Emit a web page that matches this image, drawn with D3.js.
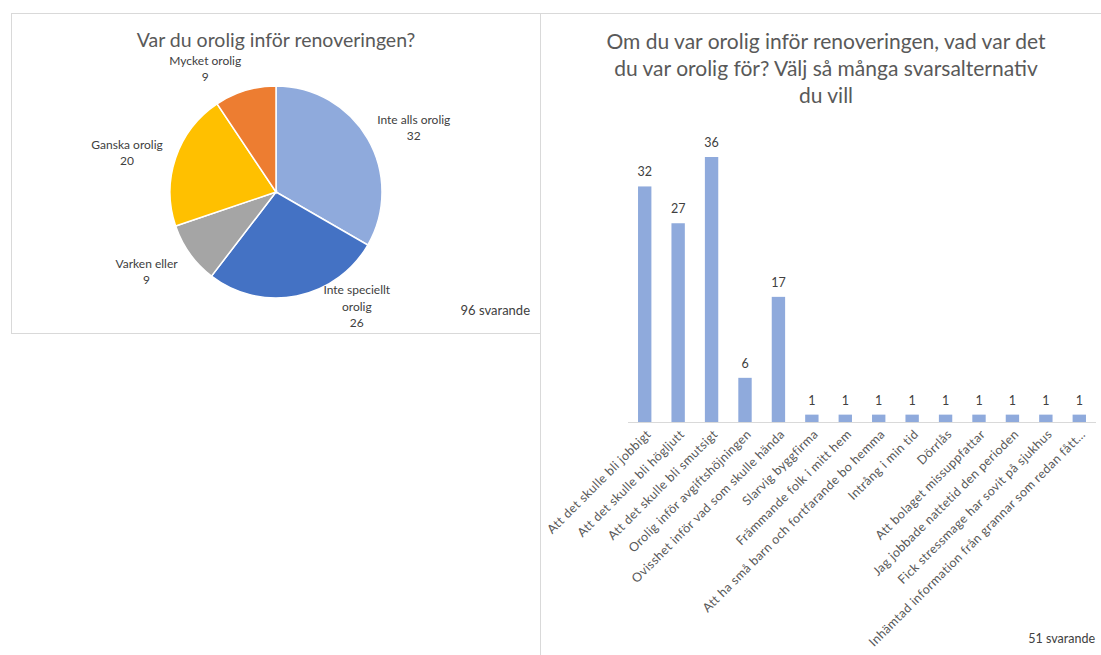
<!DOCTYPE html>
<html>
<head>
<meta charset="utf-8">
<script src="https://cdn.jsdelivr.net/npm/d3@7"></script>
<style>
  html, body { margin: 0; padding: 0; background: #fff; }
  svg { display: block; font-family: Lato, "Open Sans", sans-serif; }
</style>
</head>
<body>
<svg id="canvas" width="1101" height="655"></svg>
<script>
// ---------------------
// pie chart: worry level
// ---------------------
var pieTitle = 'Var du orolig inför renoveringen?';
var pieCategories = ['Inte alls orolig', 'Inte speciellt orolig', 'Varken eller', 'Ganska orolig', 'Mycket orolig'];
var pieValues = [32, 26, 9, 20, 9];
var pieColors = ['#8FAADC', '#4472C4', '#A5A5A5', '#FFC000', '#ED7D31'];
var pieNote = '96 svarande';

// ---------------------------
// bar chart: what people feared
// ---------------------------
var barTitleLines = [
  'Om du var orolig inför renoveringen, vad var det',
  'du var orolig för? Välj så många svarsalternativ',
  'du vill'
];
var barCategories = [
  'Att det skulle bli jobbigt',
  'Att det skulle bli högljutt',
  'Att det skulle bli smutsigt',
  'Orolig inför avgiftshöjningen',
  'Ovisshet inför vad som skulle hända',
  'Slarvig  byggfirma',
  'Främmande folk i mitt hem',
  'Att ha små barn och fortfarande bo hemma',
  'Intrång i min tid',
  'Dörrlås',
  'Att bolaget missuppfattar',
  'Jag jobbade nattetid den perioden',
  'Fick stressmage har sovit på sjukhus',
  'Inhämtad information från grannar som redan fått…'
];
var barValues = [32, 27, 36, 6, 17, 1, 1, 1, 1, 1, 1, 1, 1, 1];
var barNote = '51 svarande';

var svg = d3.select('#canvas');
var textColor = '#595959';
var labelColor = '#404040';

// panel frames
svg.append('rect')
  .attr('x', 11.5).attr('y', 13.5)
  .attr('width', 529).attr('height', 320)
  .attr('fill', 'none').attr('stroke', '#d9d9d9');
svg.append('rect')
  .attr('x', 540.5).attr('y', 13.5)
  .attr('width', 600).attr('height', 700)
  .attr('fill', 'none').attr('stroke', '#d9d9d9');

// -------
// the pie
// -------
var pieCenter = { x: 276, y: 192 };
var radius = 106;

var pieGroup = svg.append('g')
  .attr('transform', 'translate(' + pieCenter.x + ',' + pieCenter.y + ')');

var pie = d3.pie().sort(null).value(function (d) { return d; });
var arcs = pie(pieValues);
var arc = d3.arc().innerRadius(0).outerRadius(radius);

pieGroup.selectAll('path.slice')
  .data(arcs)
  .enter().append('path')
  .attr('class', 'slice')
  .attr('d', arc)
  .attr('fill', function (d, i) { return pieColors[i]; })
  .attr('stroke', '#fff')
  .attr('stroke-width', 1.5);

// best-fit style label placement (angle nudge in degrees, radius)
var labelNudge = [5, -24, 4, -4, -13];
var labelRadius = [152, 140, 152, 154, 142];

var pieLabel = pieGroup.selectAll('g.pie-label')
  .data(arcs)
  .enter().append('g')
  .attr('class', 'pie-label')
  .attr('transform', function (d, i) {
    var a = (d.startAngle + d.endAngle) / 2 + labelNudge[i] * Math.PI / 180;
    var r = labelRadius[i];
    return 'translate(' + (Math.sin(a) * r) + ',' + (-Math.cos(a) * r) + ')';
  });

pieLabel.each(function (d, i) {
  var name = pieCategories[i];
  var lines = [];
  if (name.length > 18) {
    var cut = name.lastIndexOf(' ');
    lines.push(name.slice(0, cut), name.slice(cut + 1));
  } else {
    lines.push(name);
  }
  lines.push(String(d.value));
  var lh = 16.5;
  var top = -(lines.length - 1) * lh / 2;
  var t = d3.select(this).append('text')
    .attr('text-anchor', 'middle')
    .attr('font-size', '12px')
    .attr('fill', labelColor);
  lines.forEach(function (l, k) {
    t.append('tspan').attr('x', 0).attr('y', top + k * lh).attr('dy', '0.35em').text(l);
  });
});

svg.append('text')
  .attr('x', pieCenter.x).attr('y', 47)
  .attr('text-anchor', 'middle')
  .attr('font-size', '19.5px')
  .attr('fill', textColor)
  .text(pieTitle);

svg.append('text')
  .attr('x', 530).attr('y', 315)
  .attr('text-anchor', 'end')
  .attr('font-size', '13px')
  .attr('fill', labelColor)
  .text(pieNote);

// -------
// the bars
// -------
var baseline = 422;
var x = d3.scaleBand()
  .domain(barCategories)
  .range([628, 1096])
  .paddingInner(0.6)
  .paddingOuter(0.3);
var y = d3.scaleLinear()
  .domain([0, d3.max(barValues)])
  .range([baseline, 157]);

var barData = barCategories.map(function (c, i) { return { name: c, value: barValues[i] }; });

svg.append('g').selectAll('rect.bar')
  .data(barData)
  .enter().append('rect')
  .attr('class', 'bar')
  .attr('x', function (d) { return x(d.name); })
  .attr('y', function (d) { return y(d.value); })
  .attr('width', x.bandwidth())
  .attr('height', function (d) { return baseline - y(d.value); })
  .attr('fill', '#8FAADC');

svg.append('g').selectAll('text.value')
  .data(barData)
  .enter().append('text')
  .attr('class', 'value')
  .attr('x', function (d) { return x(d.name) + x.bandwidth() / 2; })
  .attr('y', function (d) { return y(d.value) - 10; })
  .attr('text-anchor', 'middle')
  .attr('font-size', '12.5px')
  .attr('fill', labelColor)
  .text(function (d) { return d.value; });

var axis = svg.append('g')
  .attr('transform', 'translate(0,' + baseline + ')')
  .call(d3.axisBottom(x).tickSize(0).tickPadding(0));
axis.select('.domain')
  .attr('stroke', '#d9d9d9')
  .attr('d', 'M628,0.5H1096');
axis.selectAll('.tick text')
  .attr('font-family', 'Lato, "Open Sans", sans-serif')
  .attr('font-size', '12.5px')
  .attr('letter-spacing', '0.4px')
  .attr('fill', textColor)
  .attr('text-anchor', 'end')
  .attr('dy', null)
  .attr('y', 0)
  .attr('transform', 'translate(7,13) rotate(-45)');

// title
var titleText = svg.append('text')
  .attr('text-anchor', 'middle')
  .attr('font-size', '21px')
  .attr('fill', textColor);
barTitleLines.forEach(function (l, k) {
  titleText.append('tspan').attr('x', 826).attr('y', 49 + k * 27).text(l);
});

svg.append('text')
  .attr('x', 1095).attr('y', 643)
  .attr('text-anchor', 'end')
  .attr('font-size', '12.5px')
  .attr('fill', labelColor)
  .text(barNote);
</script>
</body>
</html>
